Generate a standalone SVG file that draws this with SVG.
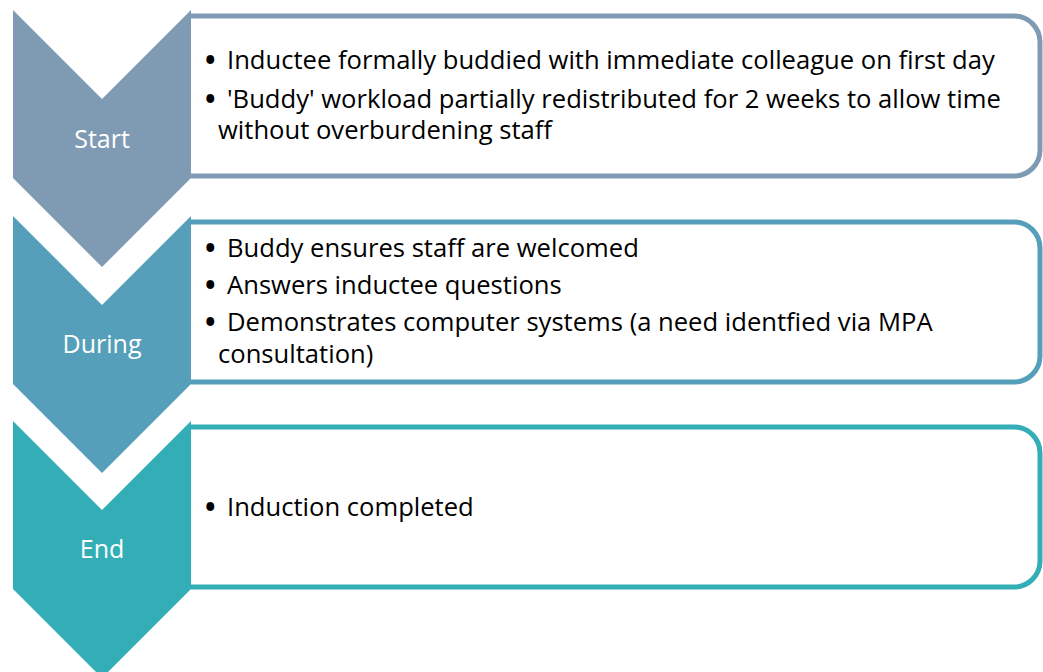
<svg xmlns="http://www.w3.org/2000/svg" width="1043" height="672" viewBox="0 0 1043 672">
<style>
.box{fill:#ffffff;stroke-width:5}
.lbl{font-family:"Open Sans","Liberation Sans",sans-serif;font-size:25px;fill:#ffffff;text-anchor:middle}
.txt{font-family:"Open Sans","Liberation Sans",sans-serif;font-size:25.6px;fill:#000000}
.bul{font-family:"Open Sans","Liberation Sans",sans-serif;font-size:28px;fill:#000000;font-weight:bold}
</style>
<rect width="1043" height="672" fill="#ffffff"/>
<g id="start">
<path class="box" stroke="#7F9BB3" d="M191,16 H1014 A26,26 0 0 1 1040,42 V150 A26,26 0 0 1 1014,176 H191"/>
<polygon fill="#7F9BB3" points="13,10 102,99 191,10 191,178 102,267 13,178"/>
<text class="lbl" x="102" y="148">Start</text>
<text class="bul" x="205" y="70">•</text>
<text class="txt" x="227" y="69">Inductee formally buddied with immediate colleague on first day</text>
<text class="bul" x="205" y="109">•</text>
<text class="txt" x="227" y="108">'Buddy' workload partially redistributed for 2 weeks to allow time</text>
<text class="txt" x="218" y="139">without overburdening staff</text>
</g>
<g id="during">
<path class="box" stroke="#559FBA" d="M191,222 H1014 A26,26 0 0 1 1040,248 V356 A26,26 0 0 1 1014,382 H191"/>
<polygon fill="#559FBA" points="13,216 102,305 191,216 191,384 102,473 13,384"/>
<text class="lbl" x="102" y="353">During</text>
<text class="bul" x="205" y="258">•</text>
<text class="txt" x="227" y="257">Buddy ensures staff are welcomed</text>
<text class="bul" x="205" y="295">•</text>
<text class="txt" x="227" y="294">Answers inductee questions</text>
<text class="bul" x="205" y="332">•</text>
<text class="txt" x="227" y="331">Demonstrates computer systems (a need identfied via MPA</text>
<text class="txt" x="218" y="363">consultation)</text>
</g>
<g id="end">
<path class="box" stroke="#33AEB7" d="M191,427 H1014 A26,26 0 0 1 1040,453 V561 A26,26 0 0 1 1014,587 H191"/>
<polygon fill="#33AEB7" points="13,421 102,510 191,421 191,589 102,678 13,589"/>
<text class="lbl" x="102" y="558">End</text>
<text class="bul" x="205" y="517">•</text>
<text class="txt" x="227" y="516">Induction completed</text>
</g>
<g id="connectors"/>
</svg>
